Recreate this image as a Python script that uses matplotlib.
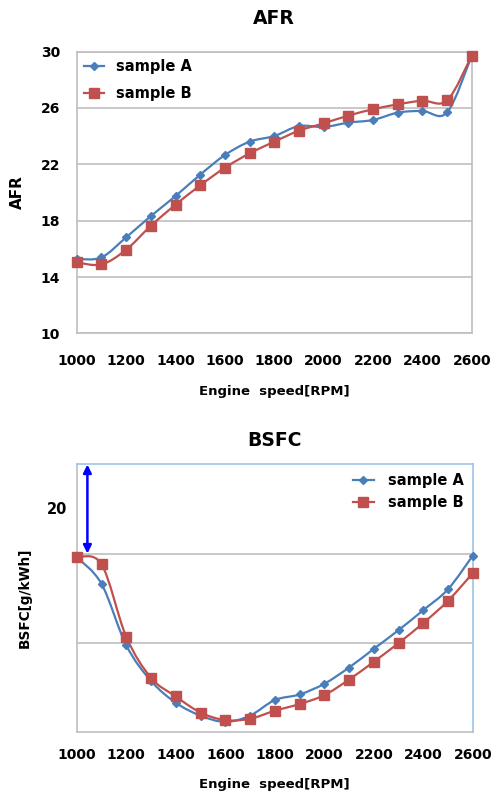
import numpy as np
import matplotlib
matplotlib.use("Agg")
import matplotlib.pyplot as plt
from matplotlib.path import Path
from matplotlib.patches import PathPatch

# ---- data ----
rpm = [1000, 1100, 1200, 1300, 1400, 1500, 1600, 1700, 1800,
       1900, 2000, 2100, 2200, 2300, 2400, 2500, 2600]

afr_a = [15.28, 15.4, 16.82, 18.33, 19.75, 21.27, 22.66, 23.61, 24.01,
         24.72, 24.65, 24.96, 25.15, 25.67, 25.79, 25.69, 29.72]
afr_b = [15.04, 14.9, 15.94, 17.64, 19.14, 20.51, 21.76, 22.78, 23.61,
         24.39, 24.91, 25.46, 25.91, 26.26, 26.52, 26.54, 29.72]

bsfc_a = [239.2, 233.2, 219.4, 211.4, 206.5, 203.6, 202.2, 203.6, 207.1,
          208.35, 210.75, 214.4, 218.6, 222.8, 227.3, 232.0, 239.55]
bsfc_b = [239.2, 237.6, 221.3, 212.1, 207.9, 204.3, 202.6, 202.9, 204.7,
          206.2, 208.2, 211.7, 215.7, 219.9, 224.4, 229.4, 235.6]

afr_yticks = [10, 14, 18, 22, 26, 30]
bsfc_grid = [220, 240]
xticks = [1000, 1200, 1400, 1600, 1800, 2000, 2200, 2400, 2600]

BLUE = "#4A7EBB"
RED = "#C0504D"
GRID = "#BFBFBF"
LIGHTBLUE = "#9DC3E6"

plt.rcParams["font.family"] = ["DejaVu Sans"]


def smooth_path(x, y, t=1.0 / 6.0):
    """Excel-like smoothed line: cubic Bezier segments through every point."""
    x = np.asarray(x, float)
    y = np.asarray(y, float)
    verts = [(x[0], y[0])]
    codes = [Path.MOVETO]
    n = len(x)
    for i in range(n - 1):
        p0 = np.array([x[max(i - 1, 0)], y[max(i - 1, 0)]])
        p1 = np.array([x[i], y[i]])
        p2 = np.array([x[i + 1], y[i + 1]])
        p3 = np.array([x[min(i + 2, n - 1)], y[min(i + 2, n - 1)]])
        c1 = p1 + (p2 - p0) * t
        c2 = p2 - (p3 - p1) * t
        verts += [tuple(c1), tuple(c2), tuple(p2)]
        codes += [Path.CURVE4] * 3
    return Path(verts, codes)


def draw_series(ax, x, y, color, marker, ms, label):
    ax.add_patch(PathPatch(smooth_path(x, y), fill=False, edgecolor=color,
                           lw=1.6, zorder=3, clip_on=False))
    ax.plot(x, y, linestyle="none", marker=marker, ms=ms, color=color,
            zorder=4, clip_on=False)
    # legend proxy
    ax.plot([], [], color=color, lw=1.6, marker=marker, ms=ms, label=label)


fig = plt.figure(figsize=(4.92, 7.94), dpi=100)

# ---------------- AFR ----------------
ax1 = fig.add_axes([0.156, 0.580, 0.803, 0.355])
draw_series(ax1, rpm, afr_a, BLUE, "D", 4, "sample A")
draw_series(ax1, rpm, afr_b, RED, "s", 6.5, "sample B")
ax1.set_xlim(1000, 2600)
ax1.set_ylim(10, 30)
ax1.set_xticks(xticks)
ax1.set_yticks(afr_yticks)
ax1.grid(axis="y", color=GRID, lw=1.2)
ax1.set_axisbelow(True)
for s in ax1.spines.values():
    s.set_color(GRID)
    s.set_linewidth(1.2)
ax1.tick_params(length=0, labelsize=10)
ax1.tick_params(axis="x", pad=15)
ax1.tick_params(axis="y", pad=12)
for lab in ax1.get_xticklabels() + ax1.get_yticklabels():
    lab.set_fontweight("bold")
ax1.set_title("AFR", fontsize=13.5, fontweight="bold", pad=20)
ax1.set_xlabel("Engine  speed[RPM]", fontsize=9.5, fontweight="bold", labelpad=12)
ax1.set_ylabel("AFR", fontsize=11, fontweight="bold", labelpad=11)
ax1.legend(loc="upper left", frameon=False, handlelength=1.4,
           handletextpad=0.8, labelspacing=0.85, borderaxespad=0.1,
           prop={"weight": "bold", "size": 10.5})

# ---------------- BSFC ----------------
ax2 = fig.add_axes([0.156, 0.0785, 0.805, 0.3365])
draw_series(ax2, rpm, bsfc_a, BLUE, "D", 4, "sample A")
draw_series(ax2, rpm, bsfc_b, RED, "s", 6.5, "sample B")
ax2.set_xlim(1000, 2600)
ax2.set_ylim(200, 260)
ax2.set_xticks(xticks)
ax2.set_yticks(bsfc_grid)
ax2.set_yticklabels([])
ax2.grid(axis="y", color=GRID, lw=1.2)
ax2.set_axisbelow(True)
ax2.spines["left"].set_color(GRID)
ax2.spines["bottom"].set_color(GRID)
ax2.spines["top"].set_color(LIGHTBLUE)
ax2.spines["right"].set_color(LIGHTBLUE)
for s in ax2.spines.values():
    s.set_linewidth(1.2)
ax2.tick_params(length=0, labelsize=10)
ax2.tick_params(axis="x", pad=12)
for lab in ax2.get_xticklabels():
    lab.set_fontweight("bold")
ax2.set_title("BSFC", fontsize=13.5, fontweight="bold", pad=13)
ax2.set_xlabel("Engine  speed[RPM]", fontsize=9.5, fontweight="bold", labelpad=11)
ax2.set_ylabel("BSFC[g/kWh]", fontsize=9.8, fontweight="bold", labelpad=29)
ax2.annotate("", xy=(1043, 260), xytext=(1043, 240),
             arrowprops=dict(arrowstyle="<|-|>", color="#0000FF", lw=1.8,
                             mutation_scale=12, shrinkA=0, shrinkB=0))
ax2.text(-0.025, 250, "20", transform=ax2.get_yaxis_transform(),
         ha="right", va="center", fontsize=10.5, fontweight="bold")
ax2.legend(loc="upper right", frameon=False, handlelength=1.4,
           handletextpad=1.0, labelspacing=0.45, borderaxespad=0.2,
           prop={"weight": "bold", "size": 10.5})

fig.savefig("out.png", dpi=100)
